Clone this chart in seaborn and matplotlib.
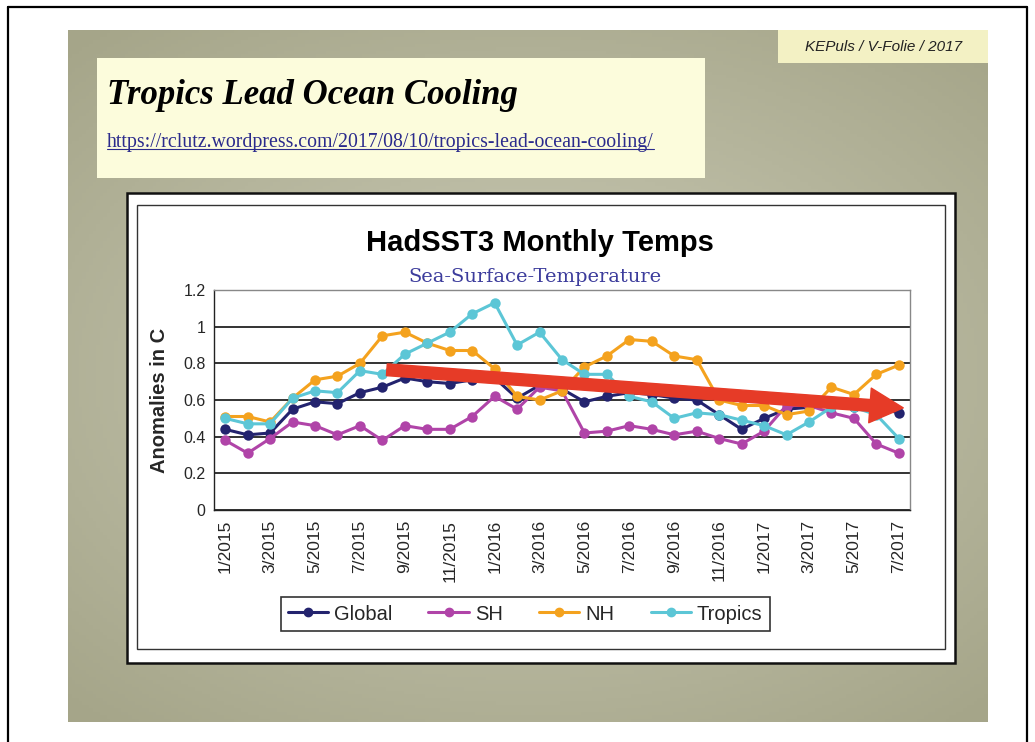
import numpy as np
import pandas as pd
import matplotlib
matplotlib.use("Agg")
import matplotlib.pyplot as plt
import seaborn as sns
from matplotlib.patches import Rectangle
from matplotlib.lines import Line2D

# Monate 1/2015 .. 7/2017
months = ["1/2015", "2/2015", "3/2015", "4/2015", "5/2015", "6/2015", "7/2015", "8/2015",
          "9/2015", "10/2015", "11/2015", "12/2015", "1/2016", "2/2016", "3/2016", "4/2016",
          "5/2016", "6/2016", "7/2016", "8/2016", "9/2016", "10/2016", "11/2016", "12/2016",
          "1/2017", "2/2017", "3/2017", "4/2017", "5/2017", "6/2017", "7/2017"]

global_vals = [0.44, 0.41, 0.42, 0.55, 0.59, 0.58, 0.64, 0.67, 0.72, 0.70, 0.69, 0.71, 0.72, 0.61,
               0.68, 0.66, 0.59, 0.62, 0.64, 0.63, 0.61, 0.60, 0.52, 0.44, 0.50, 0.55, 0.56, 0.58,
               0.56, 0.56, 0.53]
sh_vals = [0.38, 0.31, 0.39, 0.48, 0.46, 0.41, 0.46, 0.38, 0.46, 0.44, 0.44, 0.51, 0.62, 0.55,
           0.67, 0.65, 0.42, 0.43, 0.46, 0.44, 0.41, 0.43, 0.39, 0.36, 0.43, 0.57, 0.57, 0.53,
           0.50, 0.36, 0.31]
nh_vals = [0.51, 0.51, 0.48, 0.61, 0.71, 0.73, 0.80, 0.95, 0.97, 0.91, 0.87, 0.87, 0.77, 0.62,
           0.60, 0.65, 0.78, 0.84, 0.93, 0.92, 0.84, 0.82, 0.60, 0.57, 0.57, 0.52, 0.54, 0.67,
           0.63, 0.74, 0.79]
tropics_vals = [0.50, 0.47, 0.47, 0.61, 0.65, 0.64, 0.76, 0.74, 0.85, 0.91, 0.97, 1.07, 1.13, 0.90,
                0.97, 0.82, 0.74, 0.74, 0.62, 0.59, 0.50, 0.53, 0.52, 0.49, 0.46, 0.41, 0.48, 0.56,
                0.56, 0.52, 0.39]

series_names = ["Global", "SH", "NH", "Tropics"]
series_colors = ["#23236e", "#b044a8", "#f4a21e", "#5cc6d6"]

# Trendpfeil (Monatsindex, Wert)
trend_start = (7.2, 0.765)
trend_end = (30.2, 0.557)

W, H = 1035, 742
def fx(px):
    return px / W
def fy(py):
    return 1 - py / H

df = pd.DataFrame({
    "idx": list(range(len(months))) * 4,
    "val": global_vals + sh_vals + nh_vals + tropics_vals,
    "serie": sum([[n] * len(months) for n in series_names], []),
})

sns.set_style("white")
plt.rcParams['font.family'] = ['Liberation Sans', 'DejaVu Sans']

fig = plt.figure(figsize=(W / 100, H / 100), dpi=100)
fig.patch.set_facecolor("white")

# Rahmen der Seite
fig.add_artist(Line2D([fx(8), fx(8)], [0, fy(7)], color="black", lw=1.6))
fig.add_artist(Line2D([fx(1027), fx(1027)], [0, fy(7)], color="black", lw=1.6))
fig.add_artist(Line2D([fx(8), fx(1027)], [fy(7), fy(7)], color="black", lw=1.6))

# Folienhintergrund (olivgrauer Verlauf)
bg = fig.add_axes([fx(68), fy(722), fx(988) - fx(68), fy(30) - fy(722)])
bg.set_zorder(-10)
yy, xx = np.mgrid[-1:1:200j, -1:1:260j]
rr = np.sqrt((xx * 0.9) ** 2 + (yy * 1.0) ** 2)
grad = np.clip(rr / 1.3, 0, 1)
c_in = np.array([0.80, 0.80, 0.72])
c_out = np.array([0.65, 0.65, 0.54])
img = c_in[None, None, :] * (1 - grad[..., None]) + c_out[None, None, :] * grad[..., None]
bg.imshow(img, aspect="auto", extent=[0, 1, 0, 1])
bg.set_axis_off()

# Kennzeichnung oben rechts
fig.add_artist(Rectangle((fx(778), fy(63)), fx(988) - fx(778), fy(30) - fy(63),
                         transform=fig.transFigure, facecolor="#f3f1c4", edgecolor="none", zorder=-5))
fig.text(fx(884), fy(47), "KEPuls / V-Folie / 2017", ha="center", va="center",
         fontsize=11, style="italic", color="#222222")

# Titelkasten
fig.add_artist(Rectangle((fx(97), fy(178)), fx(705) - fx(97), fy(58) - fy(178),
                         transform=fig.transFigure, facecolor="#fcfcdc", edgecolor="none", zorder=-5))
fig.text(fx(107), fy(95), "Tropics Lead Ocean Cooling", ha="left", va="center",
         fontsize=25, fontweight="bold", style="italic", family="Liberation Serif", color="black")
url = fig.text(fx(107), fy(142), "https://rclutz.wordpress.com/2017/08/10/tropics-lead-ocean-cooling/",
               ha="left", va="center", fontsize=14.3, family="Liberation Serif", color="#2b2b8c")
fig.canvas.draw()
bb = url.get_window_extent().transformed(fig.transFigure.inverted())
fig.add_artist(Line2D([bb.x0, bb.x1], [bb.y0 + 0.003, bb.y0 + 0.003], color="#2b2b8c", lw=0.8))

# Diagrammkasten
fig.add_artist(Rectangle((fx(127), fy(663)), fx(955) - fx(127), fy(193) - fy(663),
                         transform=fig.transFigure, facecolor="white", edgecolor="#111111", lw=1.8,
                         zorder=-5))
fig.add_artist(Rectangle((fx(137), fy(649)), fx(945) - fx(137), fy(205) - fy(649),
                         transform=fig.transFigure, facecolor="none", edgecolor="#333333", lw=1.0,
                         zorder=-4))

fig.text(fx(540), fy(243), "HadSST3 Monthly Temps", ha="center", va="center",
         fontsize=21, fontweight="bold", color="black")
fig.text(fx(535), fy(277), "Sea-Surface-Temperature", ha="center", va="center",
         fontsize=14, family="DejaVu Serif", color="#3c3c9c")

ax = fig.add_axes([fx(214), fy(510), fx(910) - fx(214), fy(290) - fy(510)])
ax.set_zorder(2)
ax.patch.set_alpha(0)
sns.lineplot(data=df, x="idx", y="val", hue="serie", hue_order=series_names,
             palette=series_colors, marker="o", markersize=7.5, markeredgewidth=0,
             linewidth=2.2, ax=ax, legend=False)

ax.set_xlim(-0.5, len(months) - 0.5)
ax.set_ylim(0, 1.2)
ax.set_yticks(np.arange(0, 1.21, 0.2))
ax.set_yticklabels(["0", "0.2", "0.4", "0.6", "0.8", "1", "1.2"], fontsize=11.5)
ax.set_yticks(np.arange(0.1, 1.2, 0.2), minor=True)
ax.set_xticks(range(0, len(months), 2))
ax.set_xticklabels(months[::2], rotation=90, fontsize=12.5)
ax.set_xticks(np.arange(-0.5, len(months), 1), minor=True)
ax.tick_params(axis="x", which="major", length=0, pad=7)
ax.tick_params(axis="x", which="minor", length=5, direction="in", color="#333333")
ax.tick_params(axis="y", which="both", length=4, direction="in", color="#333333", pad=6)
ax.grid(axis="y", which="major", color="#333333", lw=1.4)
ax.set_axisbelow(True)
for s in ax.spines.values():
    s.set_color("#888888")
    s.set_linewidth(1.0)
ax.spines["bottom"].set_color("#222222")
ax.spines["left"].set_color("#222222")
ax.set_xlabel("")
ax.set_ylabel("Anomalies in C", fontsize=14.5, fontweight="bold", labelpad=10)

ax.annotate("", xy=trend_end, xytext=trend_start,
            arrowprops=dict(arrowstyle="simple,head_width=2.5,head_length=2.4,tail_width=0.85",
                            color="#e63b27", mutation_scale=10, shrinkA=0, shrinkB=0))

handles = [Line2D([], [], color=c, marker="o", markersize=6, lw=2.2) for c in series_colors]
leg = fig.legend(handles, series_names, loc="center", bbox_to_anchor=(fx(525), fy(614)),
                 ncol=4, fontsize=14.5, frameon=True, fancybox=False, edgecolor="black",
                 handlelength=2.0, handletextpad=0.3, columnspacing=1.8, borderpad=0.35)
leg.get_frame().set_linewidth(1.2)
leg.set_zorder(3)

fig.savefig("out.png", dpi=100)
